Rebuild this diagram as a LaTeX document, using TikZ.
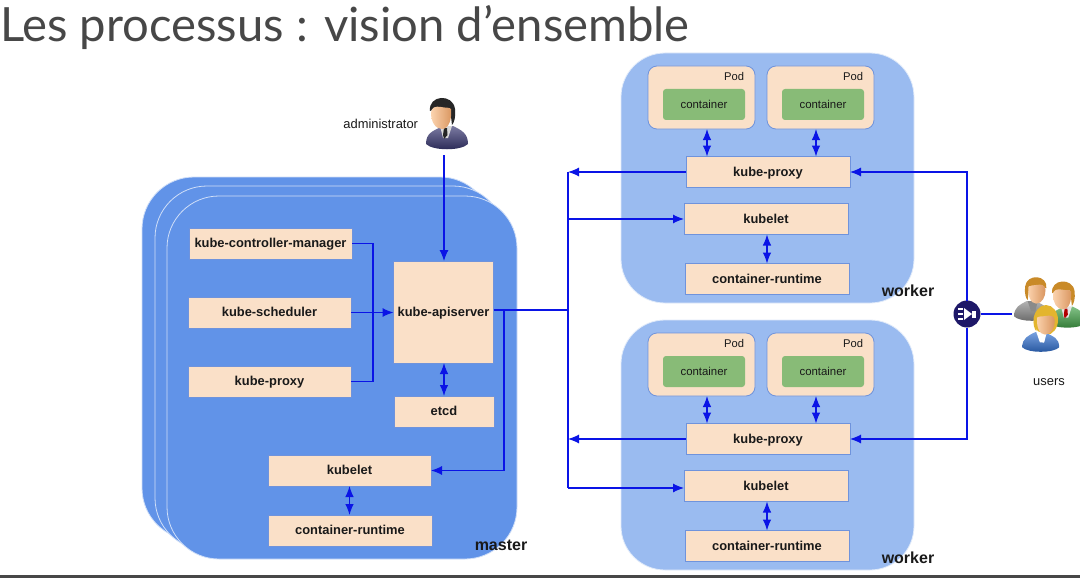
\documentclass[tikz,border=0pt]{standalone}
\usepackage{fontspec}
\setmainfont{Liberation Sans}
\newfontfamily\titlefont{Lato}
\usetikzlibrary{arrows.meta,positioning}

\definecolor{masterblue}{HTML}{6193E8}
\definecolor{workerblue}{HTML}{9ABBF0}
\definecolor{peach}{HTML}{FAE0C8}
\definecolor{boxedge}{HTML}{6F93DC}
\definecolor{contgreen}{HTML}{88BB77}
\definecolor{flowblue}{HTML}{0A14E6}
\definecolor{navy}{HTML}{1E1868}
\definecolor{skin}{HTML}{FBD3AE}
\definecolor{skindark}{HTML}{D9955F}
\definecolor{goldhair}{HTML}{C98A28}
\definecolor{fairhair}{HTML}{E3B52E}
\definecolor{suitblue}{HTML}{34336F}
\definecolor{shirtgrey}{HTML}{8A8A8A}
\definecolor{shirtgreen}{HTML}{3FA045}
\definecolor{shirtblue}{HTML}{2F6FD0}

% head at the origin of the icon, drawn in reference pixels
\newcommand{\personicon}[7]{%
  \begin{scope}[shift={(#1,#2)},#3]
    \shade[top color=#5!65!white,bottom color=#5!75!black]
      (-15,31) .. controls (-15,20) and (-8,18) .. (0,14) -- (12,13)
      .. controls (20,17) and (27,20) .. (27,31)
      .. controls (20,38) and (-8,38) .. (-15,31) -- cycle;
    \fill[#6] (-1,13) -- (11,13) -- (7,25) -- (2,25) -- cycle;
    \fill[#7] (3,15) -- (6,15) -- (6.5,22) -- (3,26) -- (2,22) -- cycle;
    \fill[#4] (-11,-2) .. controls (-13,-18) and (12,-20) .. (14,-4)
      .. controls (15,4) and (13,10) .. (11,12) -- (9,-5)
      .. controls (2,-4) and (-6,-6) .. (-11,-2) -- cycle;
    \shade[left color=skin,right color=skindark]
      (-10,0) .. controls (-10,-6) and (-5,-7) .. (0,-6)
      .. controls (4,-5) and (8,-6) .. (10,-4)
      .. controls (11,6) and (8,16) .. (1,16)
      .. controls (-6,16) and (-10,8) .. (-10,0) -- cycle;
  \end{scope}}

\tikzset{
  stacked/.style={draw=white!70!masterblue,fill=masterblue,line width=0.8pt,
    rounded corners=52pt},
  workerbox/.style={draw=white!70!workerblue,fill=workerblue,line width=0.8pt,
    rounded corners=44pt,minimum width=293pt,minimum height=250pt},
  compbox/.style={draw=boxedge,fill=peach,line width=0.6pt,minimum width=164pt,
    minimum height=31pt,text height=10.5pt,text depth=2pt,
    font=\bfseries\fontsize{12.9}{15}\selectfont},
  podbox/.style={draw=boxedge,fill=peach,line width=0.8pt,rounded corners=9pt,
    minimum width=107pt,minimum height=63pt},
  contbox/.style={fill=contgreen,rounded corners=3pt,minimum width=82pt,
    minimum height=31pt,font=\fontsize{11.4}{13}\selectfont},
  plain/.style={font=\fontsize{12.9}{15}\selectfont},
  grouplabel/.style={font=\bfseries\fontsize{16}{18}\selectfont},
  poplabel/.style={font=\fontsize{11.2}{13}\selectfont},
  flow/.style={draw=flowblue,line width=1.1pt,-{Latex[length=11pt,width=9pt]}},
  flowline/.style={draw=flowblue,line width=1.1pt},
  biflow/.style={draw=flowblue,line width=1.1pt,
    {Latex[length=11pt,width=8.5pt]}-{Latex[length=11pt,width=8.5pt]}}
}

\begin{document}
\begin{tikzpicture}[x=1pt,y=-1pt,every node/.append style={outer sep=0pt,inner sep=0pt,text=black!90}]
\useasboundingbox (0,0) rectangle (1080,578);
\fill[white] (0,0) rectangle (1080,578);
\fill[black!72] (0,574.5) rectangle (1080,578);

\node[ anchor=west,
       font=\titlefont\fontsize{47.2}{52}\selectfont,
       text=black!72
    ] (title) at (0,28) {Les processus : vision d’ensemble};

% Master stack
\draw[stacked] (142,177) rectangle (492,540);
\draw[stacked] (155,186) rectangle (505,550);
\draw[stacked] (167,196) rectangle (517,559);

\node[compbox,minimum width=163pt] (ctrl) at (270.5,243.5) {kube-controller-manager};
\node[compbox,minimum width=163pt] (sched) at (269.5,312.5) {kube-scheduler};
\node[compbox,minimum width=163pt] (mproxy) at (269.5,381.5) {kube-proxy};
\node[compbox,minimum width=100pt,minimum height=102pt] (api) at (443.5,312) {kube-apiserver};
\node[compbox,minimum width=100pt] (etcd) at (444,411.5) {etcd};
\node[compbox,minimum width=163pt] (mkubelet) at (349.5,470.5) {kubelet};
\node[compbox] (mruntime) at (350,530.5) {container-runtime};
\node[grouplabel] (masterlbl) at (501,545) {master};

% Workers
\node[workerbox] (worker_a) at (767.5,178) {};
\node[workerbox] (worker_b) at (767.5,445) {};

\node[podbox] (pod_a1) at (701.5,97.5) {};
\node[podbox,right=12pt of pod_a1] (pod_a2) {};
\node[podbox] (pod_b1) at (701.5,364.5) {};
\node[podbox,right=12pt of pod_b1] (pod_b2) {};
\node[poplabel,anchor=north east] (pod_a1_lbl) at ([xshift=-11pt,yshift=-6pt]pod_a1.north east) {Pod};
\node[poplabel,anchor=north east] (pod_a2_lbl) at ([xshift=-11pt,yshift=-6pt]pod_a2.north east) {Pod};
\node[poplabel,anchor=north east] (pod_b1_lbl) at ([xshift=-11pt,yshift=-6pt]pod_b1.north east) {Pod};
\node[poplabel,anchor=north east] (pod_b2_lbl) at ([xshift=-11pt,yshift=-6pt]pod_b2.north east) {Pod};
\node[contbox] (cont_a1) at (704,104.5) {container};
\node[contbox] (cont_a2) at (823,104.5) {container};
\node[contbox] (cont_b1) at (704,371.5) {container};
\node[contbox] (cont_b2) at (823,371.5) {container};

\node[compbox] (proxy_a) at (768,172) {kube-proxy};
\node[compbox] (kubelet_a) at (766,219) {kubelet};
\node[compbox] (runtime_a) at (767,279) {container-runtime};
\node[compbox] (proxy_b) at (768,439) {kube-proxy};
\node[compbox] (kubelet_b) at (766,486) {kubelet};
\node[compbox] (runtime_b) at (767,546) {container-runtime};
\node[grouplabel] (worker_a_lbl) at (908,291) {worker};
\node[grouplabel] (worker_b_lbl) at (908,558) {worker};

% Actors
\personicon{441}{113}{scale=1}{black!85}{suitblue}{black!15}{black!85}
\personicon{1037}{290}{xscale=-0.85,yscale=0.85}{goldhair}{shirtgrey}{shirtgrey}{shirtgrey}
\personicon{1062}{295}{scale=0.9}{goldhair}{shirtgreen}{white!80!gray}{red!70!black}
\fill[fairhair] (1046,320) ellipse (12pt and 15pt);
\personicon{1046}{321}{xscale=-0.88,yscale=0.85}{fairhair}{shirtblue}{white}{white}
\node[plain,anchor=east] (admin) at (418,124) {administrator};
\node[plain] (users) at (1049,382) {users};
\coordinate (admin_foot) at (444,155);
\coordinate (users_edge) at (1012,314);

% Load balancer
\node[circle,fill=navy,minimum size=27pt] (lb) at (967,314) {};
\draw[white,line width=1.3pt] (958,309) -- (963,309) (958,314) -- (963,314) (958,319) -- (963,319);
\fill[white] (964,308) -- (972,314) -- (964,320) -- cycle;
\fill[white] (972,310.5) rectangle (976,317.5);

% Arcs
\coordinate (rail) at (373,312);
\coordinate (bus_top) at (568,172);
\coordinate (bus_mid) at (568,310);
\coordinate (bus_low) at (568,488);
\coordinate (drop) at (504,310);
\draw[flow] (admin_foot) -- (api.north -| admin_foot);
\draw[flowline] (ctrl.east) -| (rail);
\draw[flowline] (mproxy.east) -| (rail);
\draw[flow] (sched.east) -- (api.west |- sched.east);
\draw[biflow] (api.south -| etcd.north) -- (etcd.north);
\draw[biflow] (mkubelet.south) -- (mkubelet.south |- mruntime.north);
\draw[flowline] (api.east |- bus_mid) -- (bus_mid);
\draw[flow] (drop) |- (mkubelet.east);
\draw[flowline] (bus_top) -- (bus_low);
\draw[flow] (proxy_a.west) -- (bus_top);
\draw[flow] (bus_mid |- kubelet_a.west) -- (kubelet_a.west);
\draw[flow] (proxy_b.west) -- (bus_mid |- proxy_b.west);
\draw[flow] (bus_low) -- (kubelet_b.west |- bus_low);
\draw[biflow] ([xshift=5.5pt]pod_a1.south) -- ([xshift=5.5pt]pod_a1.south |- proxy_a.north);
\draw[biflow] ([xshift=-4.5pt]pod_a2.south) -- ([xshift=-4.5pt]pod_a2.south |- proxy_a.north);
\draw[biflow] ([xshift=5.5pt]pod_b1.south) -- ([xshift=5.5pt]pod_b1.south |- proxy_b.north);
\draw[biflow] ([xshift=-4.5pt]pod_b2.south) -- ([xshift=-4.5pt]pod_b2.south |- proxy_b.north);
\draw[biflow] (kubelet_a.south -| runtime_a.north) -- (runtime_a.north);
\draw[biflow] (kubelet_b.south -| runtime_b.north) -- (runtime_b.north);
\draw[flow] (lb.north) |- (proxy_a.east);
\draw[flow] (lb.south) |- (proxy_b.east);
\draw[flowline] (lb.east) -- (users_edge);
\end{tikzpicture}
\end{document}
